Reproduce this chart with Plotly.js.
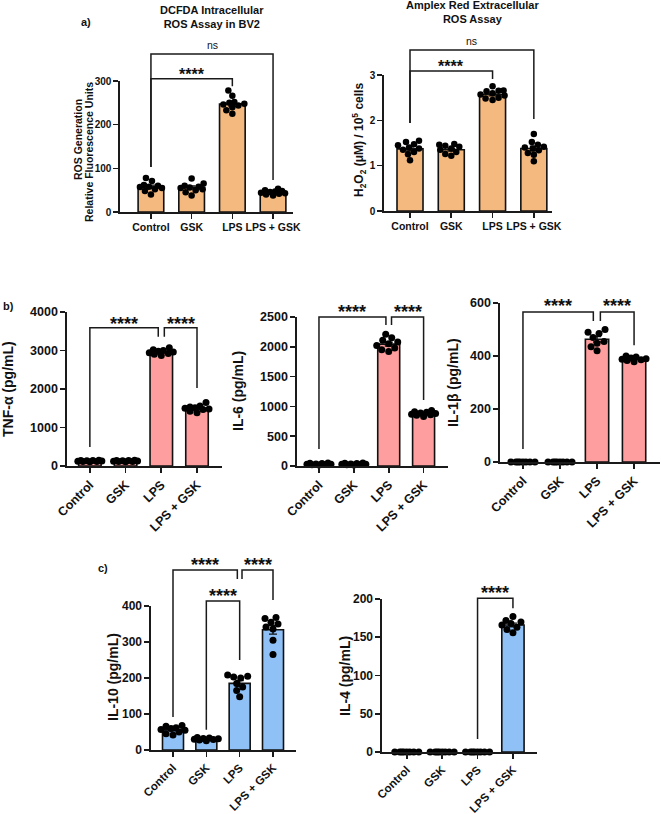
<!DOCTYPE html>
<html><head><meta charset="utf-8">
<script src="https://cdn.plot.ly/plotly-3.0.1.min.js"></script>
<style>html,body{margin:0;padding:0;background:#fff}</style>
</head><body><div id="chart" style="width:661px;height:814px"></div>
<script>
const categories = ['Control', 'GSK', 'LPS', 'LPS + GSK'];

// a) DCFDA intracellular ROS (relative fluorescence units)
const rosMean = [58, 56, 247, 45];
const rosSem = [3.5, 3.5, 5, 1.5];
const rosPoints = [
  [78, 71, 62, 60, 58, 57, 55, 52, 48, 40],
  [77, 65, 60, 58, 56, 55, 52, 50, 45, 38],
  [278, 266, 252, 250, 248, 246, 244, 240, 233, 225],
  [53, 50, 48, 47, 46, 44, 43, 42, 40, 38]
];
// a) Amplex Red extracellular ROS (H2O2 uM / 1e5 cells)
const h2o2Mean = [1.37, 1.35, 2.57, 1.38];
const h2o2Sem = [0.045, 0.03, 0.03, 0.05];
const h2o2Points = [
  [1.55, 1.52, 1.47, 1.45, 1.40, 1.38, 1.35, 1.30, 1.25, 1.12],
  [1.48, 1.46, 1.44, 1.42, 1.38, 1.35, 1.30, 1.26, 1.22],
  [2.75, 2.66, 2.65, 2.64, 2.60, 2.57, 2.55, 2.50, 2.48, 2.45],
  [1.70, 1.52, 1.46, 1.42, 1.40, 1.38, 1.34, 1.28, 1.24, 1.10]
];
// b) TNF-alpha (pg/mL)
const tnfMean = [130, 130, 2960, 1500];
const tnfSem = [6, 6, 22, 28];
const tnfPoints = [
  [150, 145, 140, 135, 130, 125, 120, 115, 110],
  [150, 145, 140, 135, 130, 125, 120, 115, 110],
  [3070, 3020, 3000, 2980, 2960, 2940, 2920, 2900, 2870],
  [1650, 1560, 1530, 1510, 1500, 1480, 1470, 1420, 1380]
];
// b) IL-6 (pg/mL)
const il6Mean = [30, 30, 2045, 870];
const il6Sem = [3, 3, 32, 10];
const il6Points = [
  [50, 45, 40, 35, 30, 28, 25, 20, 15],
  [50, 45, 40, 35, 30, 28, 25, 20, 15],
  [2210, 2150, 2110, 2080, 2050, 2020, 1980, 1950, 1920],
  [930, 910, 900, 890, 880, 870, 860, 850, 830]
];
// b) IL-1beta (pg/mL)
const il1bMean = [0, 0, 463, 389];
const il1bSem = [0, 0, 10, 2.5];
const il1bPoints = [
  [0, 0, 0, 0, 0, 0, 0, 0],
  [0, 0, 0, 0, 0, 0, 0, 0],
  [500, 490, 485, 470, 455, 448, 435, 420],
  [400, 396, 392, 390, 388, 386, 383, 378]
];
// c) IL-10 (pg/mL)
const il10Mean = [56, 30, 185, 334];
const il10Sem = [3, 1, 8, 12];
const il10Points = [
  [68, 66, 62, 60, 57, 55, 50, 45, 42],
  [35, 33, 32, 31, 30, 29, 28, 26],
  [208, 205, 203, 200, 185, 175, 165, 148],
  [368, 365, 355, 350, 342, 336, 305, 265]
];
// c) IL-4 (pg/mL)
const il4Mean = [0, 0, 0, 166];
const il4Sem = [0, 0, 0, 2.5];
const il4Points = [
  [0, 0, 0, 0, 0, 0, 0, 0],
  [0, 0, 0, 0, 0, 0, 0, 0],
  [0, 0, 0, 0, 0, 0, 0, 0],
  [177, 172, 170, 168, 166, 163, 160, 156]
];

// significance brackets: [leftX, rightX, height, leftEnd, rightEnd, label, labelY]
const rosBrackets = [[0, 2, 305, 103, 288, '****', 325], [0, 3, 362, 103, 73, 'ns', 382]];
const h2o2Brackets = [[0, 2, 3.09, 1.94, 2.91, '****', 3.29], [0, 3, 3.55, 1.94, 2.03, 'ns', 3.75]];
const tnfBrackets = [[0, 1.915, 3590, 494, 3354, '****', 3822], [2.085, 3, 3590, 3354, 2028, '****', 3822]];
const il6Brackets = [[0, 1.92, 2500, 285, 2366, '****', 2668], [2.08, 3, 2500, 2366, 1107, '****', 2668]];
const il1bBrackets = [[0, 1.9, 566, 49, 532, '****', 608], [2.09, 3, 566, 532, 441, '****', 608]];
const il10Brackets = [[0, 1.93, 500, 92, 475, '****', 528], [2.07, 3, 500, 475, 417, '****', 528], [1, 2, 414, 56, 250, '****', 442]];
const il4Brackets = [[2, 3, 201, 17, 188, '****', 214]];

const FONT = 'Liberation Sans, Arial, sans-serif';
const W = 661, H = 814;
const ORANGE = '#F4B97F', PINK = '#FF9E9E', BLUE = '#8FC1F6';

const panels = [
  {mean: rosMean, sem: rosSem, pts: rosPoints, br: rosBrackets, color: ORANGE, px: [120, 293], py: [81, 212], xr: [-0.76, 3.49], yr: [0, 300], dtick: 100, tfs: 10, cfs: 10.5, ang: 0, dot: 6.5, star: 16, ns: 10.5},
  {mean: h2o2Mean, sem: h2o2Sem, pts: h2o2Points, br: h2o2Brackets, color: ORANGE, px: [384, 552], py: [75, 211], xr: [-0.63, 3.44], yr: [0, 3], dtick: 1, tfs: 10, cfs: 10.5, ang: 0, dot: 6.5, star: 16, ns: 10.5},
  {mean: tnfMean, sem: tnfSem, pts: tnfPoints, br: tnfBrackets, color: PINK, px: [67, 222], py: [312, 466], xr: [-0.64, 3.7], yr: [0, 4000], dtick: 1000, tfs: 12.5, cfs: 12.5, ang: -45, dot: 7, star: 18},
  {mean: il6Mean, sem: il6Sem, pts: il6Points, br: il6Brackets, color: PINK, px: [297, 448], py: [317, 466], xr: [-0.63, 3.7], yr: [0, 2500], dtick: 500, tfs: 12.5, cfs: 12.5, ang: -45, dot: 7, star: 18},
  {mean: il1bMean, sem: il1bSem, pts: il1bPoints, br: il1bBrackets, color: PINK, px: [500, 660], py: [303, 462], xr: [-0.62, 3.7], yr: [0, 600], dtick: 200, tfs: 12.5, cfs: 12.5, ang: -45, dot: 7, star: 18},
  {mean: il10Mean, sem: il10Sem, pts: il10Points, br: il10Brackets, color: BLUE, px: [151, 296], py: [606, 750], xr: [-0.66, 3.69], yr: [0, 400], dtick: 100, tfs: 12, cfs: 11.5, ang: -45, dot: 7, star: 18},
  {mean: il4Mean, sem: il4Sem, pts: il4Points, br: il4Brackets, color: BLUE, px: [382, 537], py: [599, 752], xr: [-0.70, 3.68], yr: [0, 200], dtick: 50, tfs: 12, cfs: 11.5, ang: -45, dot: 7, star: 18}
];

// simple deterministic beeswarm: horizontal pixel offsets so dots don't pile up
function swarm(values, kY, d, maxHalf) {
  const order = values.map((v, i) => i).sort((a, b) => values[a] - values[b]);
  const placed = [];
  const off = new Array(values.length).fill(0);
  order.forEach(i => {
    const py = values[i] * kY;
    let best = 0, bestScore = -1;
    for (let s = 0; s <= maxHalf * 2; s++) {
      const c = (s % 2 === 0 ? 1 : -1) * Math.ceil(s / 2);
      let minD = Infinity;
      placed.forEach(p => { minD = Math.min(minD, Math.hypot(c - p[0], py - p[1])); });
      if (minD >= d) { best = c; break; }
      if (minD > bestScore + 0.01) { bestScore = minD; best = c; }
    }
    placed.push([best, py]);
    off[i] = best;
  });
  return off;
}

const traces = [], shapes = [], annotations = [];
const idx = categories.map((c, i) => i);
const layout = {
  width: W, height: H, margin: {l: 0, r: 0, t: 0, b: 0},
  paper_bgcolor: '#ffffff', plot_bgcolor: 'rgba(0,0,0,0)', showlegend: false,
  font: {family: FONT, color: '#111'}, shapes, annotations
};

panels.forEach((p, k) => {
  const n = k === 0 ? '' : String(k + 1);
  const xa = 'x' + n, ya = 'y' + n;
  const axBase = {showline: true, linewidth: 1.6, linecolor: '#1a1a1a', ticks: 'outside', ticklen: 5, tickwidth: 1.6,
    tickcolor: '#1a1a1a', showgrid: false, zeroline: false, fixedrange: true};
  layout['xaxis' + n] = Object.assign({}, axBase, {
    domain: [p.px[0] / W, p.px[1] / W], range: p.xr, anchor: ya, tickmode: 'array', tickvals: idx, ticktext: categories,
    tickangle: p.ang, tickfont: {family: FONT, size: p.cfs, color: '#111', weight: 'bold'}
  });
  layout['yaxis' + n] = Object.assign({}, axBase, {
    domain: [1 - p.py[1] / H, 1 - p.py[0] / H], range: p.yr, anchor: xa, tick0: 0, dtick: p.dtick,
    tickfont: {family: FONT, size: p.tfs, color: '#111', weight: 'bold'}
  });
  traces.push({
    type: 'bar', x: idx, y: p.mean, xaxis: xa, yaxis: ya, width: 0.63,
    marker: {color: p.color, line: {color: '#111', width: 1.6}},
    error_y: {type: 'data', array: p.sem, visible: true, color: '#111', thickness: 1.4, width: 4},
    hoverinfo: 'skip'
  });
  const kY = (p.py[1] - p.py[0]) / (p.yr[1] - p.yr[0]);
  const kX = (p.px[1] - p.px[0]) / (p.xr[1] - p.xr[0]);
  const xs = [], ys = [];
  p.pts.forEach((vals, g) => {
    const off = swarm(vals, kY, p.dot * 0.95, 12);
    vals.forEach((v, j) => { xs.push(g + off[j] / kX); ys.push(v); });
  });
  traces.push({
    type: 'scatter', mode: 'markers', x: xs, y: ys, xaxis: xa, yaxis: ya, cliponaxis: false,
    marker: {color: '#000', size: p.dot, line: {width: 0}}, hoverinfo: 'skip'
  });
  const dom = v => (v - p.yr[0]) / (p.yr[1] - p.yr[0]);
  p.br.forEach(b => {
    const [x0, x1, h, e0, e1, label, ty] = b;
    shapes.push({
      type: 'path', xref: xa, yref: ya + ' domain',
      path: `M ${x0},${dom(e0)} L ${x0},${dom(h)} L ${x1},${dom(h)} L ${x1},${dom(e1)}`,
      line: {color: '#1a1a1a', width: 1.5}
    });
    const isStar = label !== 'ns';
    annotations.push({
      xref: xa, yref: ya + ' domain', x: (x0 + x1) / 2, y: dom(ty), text: label, showarrow: false,
      xanchor: 'center', yanchor: 'middle', yshift: isStar ? -0.27 * p.star : 0,
      font: {family: FONT, size: isStar ? p.star : p.ns, color: '#111', weight: isStar ? 'bold' : 'normal'}
    });
  });
});

function paperText(text, x, y, size, angle) {
  annotations.push({xref: 'paper', yref: 'paper', x: x / W, y: 1 - y / H, text: text, showarrow: false,
    xanchor: 'center', yanchor: 'middle', textangle: angle || 0,
    font: {family: FONT, size: size, color: '#111', weight: 'bold'}});
}
paperText('DCFDA Intracellular<br>ROS Assay in BV2', 212, 17, 11);
paperText('Amplex Red Extracellular<br>ROS Assay', 472, 12, 11);
paperText('a)', 86, 22, 11);
paperText('b)', 8, 306, 11);
paperText('c)', 103, 568, 11);
paperText('ROS Generation', 78, 140, 10.5, -90);
paperText('Relative Fluorescence Units', 89, 152, 10.5, -90);
paperText('H<sub>2</sub>O<sub>2</sub> (μM) / 10<sup>5</sup> cells', 359, 140, 12, -90);
paperText('TNF-α (pg/mL)', 8, 389, 14, -90);
paperText('IL-6 (pg/mL)', 238, 391, 14, -90);
paperText('IL-1β (pg/mL)', 453, 383, 14, -90);
paperText('IL-10 (pg/mL)', 113, 677, 14, -90);
paperText('IL-4 (pg/mL)', 345, 676, 14, -90);

Plotly.newPlot('chart', traces, layout, {staticPlot: true, displayModeBar: false});
</script>
</body></html>
